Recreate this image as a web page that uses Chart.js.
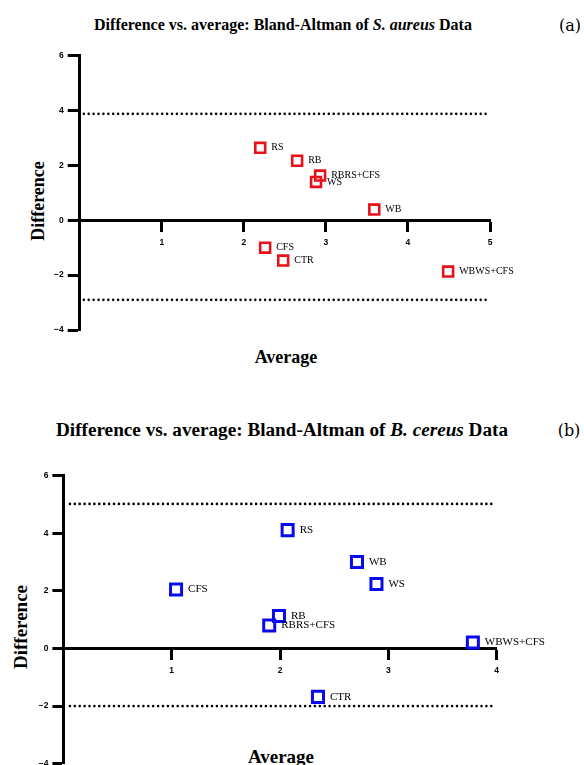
<!DOCTYPE html>
<html>
<head>
<meta charset="utf-8">
<script src="https://cdn.jsdelivr.net/npm/chart.js@4"></script>
<style>
  html, body { margin: 0; padding: 0; background: #fff; }
  body { width: 584px; height: 765px; overflow: hidden; position: relative; }
  .box { position: absolute; left: 0; }
  .txt { position: absolute; transform: translate(-50%, -50%); white-space: nowrap; color: #000;
         font-family: "Liberation Serif", "Times New Roman", serif; }
  .title { font-weight: bold; }
  .tag { font-family: "DejaVu Serif", serif; font-size: 16px; }
  .axis { font-weight: bold; font-size: 18px; }
  .rot { transform: translate(-50%, -50%) rotate(-90deg); }
</style>
</head>
<body>

<div class="txt title" style="left:283px; top:25px; font-size:16px;">Difference vs. average: Bland-Altman of <i>S. aureus</i> Data</div>
<div class="txt tag" style="left:570px; top:25px;">(a)</div>
<div class="txt axis rot" style="left:38px; top:201px;">Difference</div>
<div class="txt axis" style="left:286px; top:357px;">Average</div>

<div class="txt title" style="left:282px; top:430px; font-size:19.2px;">Difference vs. average: Bland-Altman of <i>B. cereus</i> Data</div>
<div class="txt tag" style="left:569px; top:430px;">(b)</div>
<div class="txt axis rot" style="left:21px; top:627px; font-size:19px;">Difference</div>
<div class="txt axis" style="left:281px; top:757px; font-size:19px;">Average</div>

<div class="box" style="top:0px;"><canvas id="chartA" width="584" height="380"></canvas></div>
<div class="box" style="top:380px;"><canvas id="chartB" width="584" height="400"></canvas></div>

<script>
/* ================================
   Data
================================ */
// (a) S. aureus
const namesA = ['RS', 'RB', 'RBRS+CFS', 'WS', 'WB', 'CFS', 'CTR', 'WBWS+CFS'];
const avgA   = [2.20, 2.65, 2.93, 2.88, 3.59, 2.26, 2.48, 4.49];
const diffA  = [2.64, 2.17, 1.63, 1.40, 0.39, -1.00, -1.47, -1.87];
const limitsA = [3.88, -2.90];     // upper / lower limits of agreement
const xTicksA = [0, 5];            // x range
const yTicksA = [-4, 6];           // y range

// (b) B. cereus
const namesB = ['RS', 'WB', 'WS', 'CFS', 'RB', 'RBRS+CFS', 'WBWS+CFS', 'CTR'];
const avgB   = [2.07, 2.71, 2.89, 1.04, 1.99, 1.90, 3.78, 2.35];
const diffB  = [4.11, 3.00, 2.24, 2.05, 1.13, 0.80, 0.21, -1.68];
const limitsB = [5.02, -2.00];
const xTicksB = [0, 4];
const yTicksB = [-4, 6];

/* ================================
   Helpers
================================ */
const tickFont = { family: 'Liberation Sans', size: 8.5, weight: 'bold' };
const fmt = v => (v < 0 ? '\u2212' + Math.abs(v) : String(v));

// point labels next to each marker
const pointLabels = {
  id: 'pointLabels',
  afterDatasetsDraw(chart, args, opts) {
    const meta = chart.getDatasetMeta(0);
    const ctx = chart.ctx;
    ctx.save();
    ctx.fillStyle = '#000';
    ctx.font = opts.size + 'px "Liberation Serif"';
    ctx.textBaseline = 'middle';
    ctx.textAlign = 'left';
    meta.data.forEach((pt, i) => {
      ctx.fillText(opts.names[i], pt.x + opts.offset, pt.y);
    });
    ctx.restore();
  }
};

function buildChart(id, s) {
  const points = s.avg.map((a, i) => ({ x: a, y: s.diff[i] }));
  const limitLine = v => ({
    type: 'line',
    data: [{ x: s.lineFrom, y: v }, { x: s.lineTo, y: v }],
    borderColor: '#000',
    borderWidth: 2.6,
    borderDash: [0, 4.9],
    borderCapStyle: 'round',
    pointRadius: 0,
    fill: false
  });

  return new Chart(document.getElementById(id), {
    type: 'scatter',
    data: {
      datasets: [
        {
          data: points,
          pointStyle: 'rect',
          pointRadius: s.radius,
          borderWidth: s.stroke,
          borderColor: s.color,
          backgroundColor: 'rgba(0,0,0,0)'
        },
        limitLine(s.limits[0]),
        limitLine(s.limits[1])
      ]
    },
    options: {
      responsive: false,
      animation: false,
      devicePixelRatio: 1,
      layout: { padding: s.padding },
      plugins: {
        legend: { display: false },
        tooltip: { enabled: false },
        pointLabels: { names: s.names, size: s.labelSize, offset: s.labelOffset }
      },
      scales: {
        x: {
          type: 'linear',
          position: { y: 0 },
          min: s.xRange[0],
          max: s.xRange[1],
          ticks: {
            stepSize: 1,
            padding: 7,
            maxRotation: 0,
            color: '#000',
            font: tickFont,
            callback: v => (v === 0 ? '' : fmt(v))
          },
          grid: { drawOnChartArea: false, tickLength: 10, tickWidth: 3, tickColor: '#000' },
          border: { display: true, width: 3, color: '#000' }
        },
        y: {
          min: s.yRange[0],
          max: s.yRange[1],
          afterFit: scale => { scale.width = 40; },
          ticks: {
            stepSize: 2,
            padding: 4,
            color: '#000',
            font: tickFont,
            callback: fmt
          },
          grid: { drawOnChartArea: false, tickLength: s.yTick, tickWidth: 3, tickColor: '#000' },
          border: { display: true, width: 3, color: '#000' }
        }
      }
    },
    plugins: [pointLabels]
  });
}

/* ================================
   Charts
================================ */
if (typeof Chart !== 'undefined') {
  buildChart('chartA', {
    names: namesA, avg: avgA, diff: diffA, limits: limitsA,
    xRange: xTicksA, yRange: yTicksA,
    lineFrom: 0.05, lineTo: 4.97,
    color: '#e8101a', radius: 7, stroke: 2.6,
    labelSize: 10, labelOffset: 11, yTick: 12,
    padding: { left: 39.7, right: 94, top: 55.7, bottom: 50 }
  });

  buildChart('chartB', {
    names: namesB, avg: avgB, diff: diffB, limits: limitsB,
    xRange: xTicksB, yRange: yTicksB,
    lineFrom: 0.06, lineTo: 3.97,
    color: '#0a0aee', radius: 7.8, stroke: 3,
    labelSize: 11, labelOffset: 12, yTick: 11,
    padding: { left: 23.4, right: 87.3, top: 95.7, bottom: 16.3 }
  });
}
</script>
</body>
</html>
